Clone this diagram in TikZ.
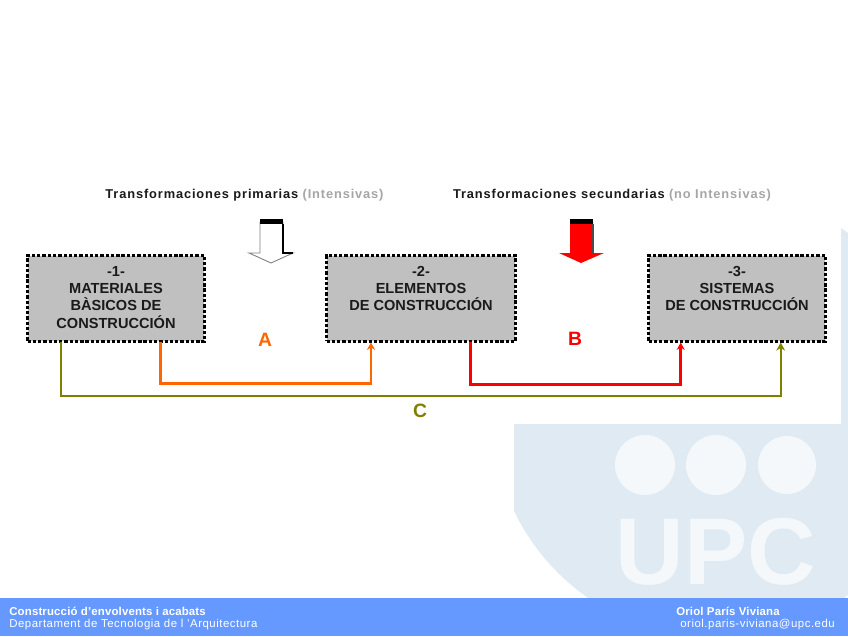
\documentclass[tikz,border=0pt]{standalone}
\usepackage{fontspec}
\setmainfont{Liberation Sans}
\usepackage{tikz}
\usetikzlibrary{calc,arrows.meta,positioning}
\definecolor{BoxFill}{HTML}{C0C0C0}
\definecolor{LinkA}{HTML}{FF6600}
\definecolor{LinkB}{HTML}{FF0000}
\definecolor{LinkC}{HTML}{808000}
\definecolor{FootBar}{HTML}{6699FF}
\definecolor{LogoBlue}{HTML}{E0EAF3}
\definecolor{LogoPale}{HTML}{F5F8FA}
\definecolor{NoteGrey}{HTML}{A6A6A6}
\definecolor{InkDark}{HTML}{1A1A1A}
\tikzset{
  stagebox/.style={draw=black,fill=BoxFill,line width=1.7pt,dash pattern=on 1.9pt off 1.1pt,
    minimum height=1.72cm,inner sep=0pt,outer sep=0pt,align=center,text=InkDark,
    font=\bfseries\fontsize{8.3}{9.7}\selectfont},
  headnote/.style={font=\bfseries\fontsize{7.3}{9}\selectfont\addfontfeature{LetterSpace=6.8},text=InkDark,inner sep=0pt},
  linkname/.style={font=\bfseries\fontsize{11}{13}\selectfont,inner sep=0pt},
  linkA/.style={draw=LinkA,line width=1.7pt,-{Stealth[length=4.2pt,width=4.6pt]}},
  linkB/.style={draw=LinkB,line width=1.7pt,-{Stealth[length=4.2pt,width=4.6pt]}},
  linkC/.style={draw=LinkC,line width=1.2pt,-{Stealth[length=4.6pt,width=5pt]}},
  footnote/.style={font=\fontsize{6.5}{8}\selectfont\addfontfeature{LetterSpace=4.5},text=white,inner sep=0pt,anchor=west},
  footname/.style={footnote,font=\bfseries\fontsize{6.5}{8}\selectfont\addfontfeature{LetterSpace=1.4}}
}
\begin{document}
\begin{tikzpicture}[x=0.02cm,y=-0.02cm]
  \useasboundingbox (0,0) rectangle (848,636);
  \fill[white] (0,0) rectangle (848,636);
  % logo behind the panel
  \begin{scope}
    \clip (514,424) rectangle (841,598) (841,190) rectangle (848,598);
    \fill[LogoBlue] (716,414) circle (224);
    \fill[LogoPale] (645,465) circle (30) (716,465) circle (30) (787,465) circle (29);
  \end{scope}
  \node[font=\bfseries\fontsize{54}{54}\selectfont,text=LogoPale,inner sep=0pt] (logotext) at (716,552) {UPC};
  \fill[FootBar] (0,598) rectangle (848,636);
  \node[footname] (course) at (9,611) {Construcció d'envolvents i acabats};
  \node[footnote] (dept) at (9,625) {Departament de Tecnologia de l 'Arquitectura};
  \node[footname] (author) at (676,611) {Oriol París Viviana};
  \node[footnote] (mail) at (680,625) {oriol.paris-viviana@upc.edu};

  \node[headnote] (primary) at (244.5,195) {Transformaciones primarias \textcolor{NoteGrey}{(Intensivas)}};
  \node[headnote] (secondary) at (612,195) {Transformaciones secundarias \textcolor{NoteGrey}{(no Intensivas)}};

  % block arrows
  \draw[fill=white,draw=gray,line width=0.5pt] (260,222)--(283,222)--(283,253)--(293,253)--(271,263)--(249,253)--(260,253)--cycle;
  \draw[black,line width=0.6pt] (283,224)--(283,253)--(293,253);
  \fill[black] (260,219) rectangle (283,224);
  \fill[LinkB] (570,222)--(593,222)--(593,253)--(604,253)--(581,263)--(559,253)--(570,253)--cycle;
  \draw[black!70,line width=0.6pt] (593,224)--(593,253);
  \fill[black] (570,219) rectangle (593,224);

  \node[stagebox,minimum width=3.54cm] (mat) at (116,298.5) {-1-\\MATERIALES\\BÀSICOS DE\\CONSTRUCCIÓN\\[-8.5pt]~};
  \node[stagebox,minimum width=3.78cm] (elem) at (421,298.5) {-2-\\ELEMENTOS\\DE CONSTRUCCIÓN\\[1.5pt]~};
  \node[stagebox,minimum width=3.54cm] (sys) at (737,298.5) {-3-\\SISTEMAS\\DE CONSTRUCCIÓN\\[1.5pt]~};

  \coordinate (matA) at (160.5,342);
  \coordinate (matC) at (61,342);
  \coordinate (elemA) at (371,342.5);
  \coordinate (elemB) at (470.7,342);
  \coordinate (sysB) at (680.7,342.5);
  \coordinate (sysC) at (780.7,342.5);
  \draw[linkC] (matC) -- ++(0,54) -| (sysC);
  \draw[linkA] (matA) -- ++(0,41) -| (elemA);
  \draw[linkB] (elemB) -- ++(0,42) -| (sysB);

  \node[linkname,text=LinkA] (nameA) at (265,340) {A};
  \node[linkname,text=LinkB] (nameB) at (575,339) {B};
  \node[linkname,text=LinkC] (nameC) at (420,411) {C};
\end{tikzpicture}
\end{document}
